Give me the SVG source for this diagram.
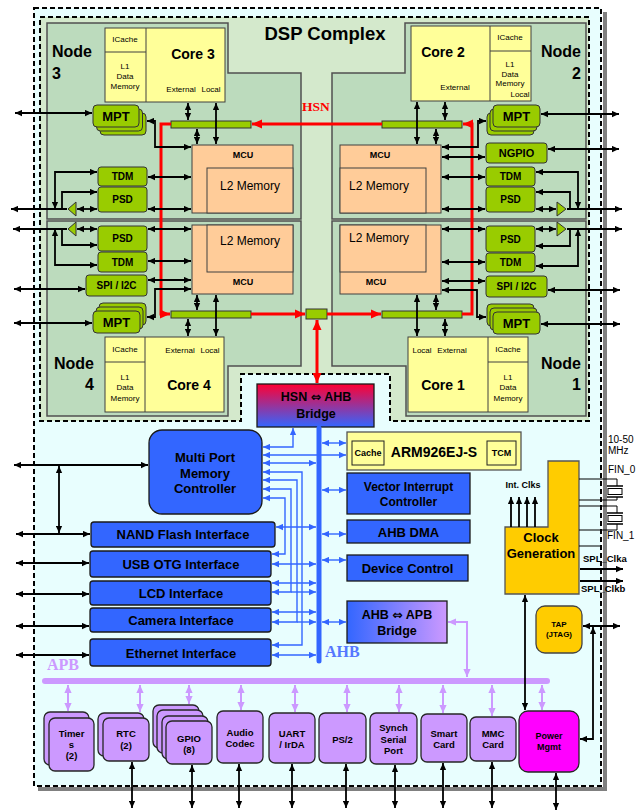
<svg xmlns="http://www.w3.org/2000/svg" width="640" height="811" viewBox="0 0 640 811">
<defs>
<style>
text{font-family:"Liberation Sans",Arial,Helvetica,sans-serif;fill:#000}
.b{font-weight:bold}
.m{text-anchor:middle}
.e{text-anchor:end}
.dj{font-family:"DejaVu Sans",sans-serif;font-weight:bold}
.f8{font-size:8px}.f9{font-size:9px}.f95{font-size:9.5px}.f10{font-size:10px}.f11{font-size:11px}.f12{font-size:12px}.f125{font-size:12.5px}.f13{font-size:13px}.f14{font-size:14px}.f16{font-size:16px}
.serif{font-family:"Liberation Serif","Times New Roman",serif;font-weight:bold}
.node{fill:#bcdbbd;stroke:#505050;stroke-width:1.5}
.core{fill:#ffff99;stroke:#404040;stroke-width:1}
.ln{fill:none;stroke:#404040;stroke-width:1}
.mcu{fill:#ffcc99;stroke:#404040;stroke-width:1}
.grn{fill:#99cc00;stroke:#333;stroke-width:1}
.blu{fill:#3366ff;stroke:#1a1a1a;stroke-width:1.3}
.pur{fill:#cc99ff;stroke:#262626;stroke-width:1.3}
.dash{fill:none;stroke:#000;stroke-width:2;stroke-dasharray:5 3}
.k{fill:none;stroke:#000;stroke-width:1.8;marker-end:url(#mk)}
.k2{fill:none;stroke:#000;stroke-width:1.8;marker-start:url(#mk);marker-end:url(#mk)}
.r{fill:none;stroke:#ff0000;stroke-width:3;marker-end:url(#mr)}
.r2{fill:none;stroke:#ff0000;stroke-width:3;marker-start:url(#mr);marker-end:url(#mr)}
.u{fill:none;stroke:#3366ff;stroke-width:1.4;marker-end:url(#mu)}
.u2{fill:none;stroke:#3366ff;stroke-width:1.4;marker-start:url(#mu);marker-end:url(#mu)}
.p2{fill:none;stroke:#cc99ff;stroke-width:2;marker-start:url(#mp);marker-end:url(#mp)}
.thin{fill:none;stroke:#000;stroke-width:1}
</style>
<marker id="mk" viewBox="0 0 10 10" refX="10" refY="5" markerWidth="7" markerHeight="7" markerUnits="userSpaceOnUse" orient="auto-start-reverse"><path d="M0,0.5L10,5L0,9.5z" fill="#000"/></marker>
<marker id="mr" viewBox="0 0 10 10" refX="10" refY="5" markerWidth="10" markerHeight="10" markerUnits="userSpaceOnUse" orient="auto-start-reverse"><path d="M0,0.5L10,5L0,9.5z" fill="#ff0000"/></marker>
<marker id="mu" viewBox="0 0 10 10" refX="10" refY="5" markerWidth="7" markerHeight="7" markerUnits="userSpaceOnUse" orient="auto-start-reverse"><path d="M0,0.5L10,5L0,9.5z" fill="#3366ff"/></marker>
<marker id="mp" viewBox="0 0 10 10" refX="10" refY="5" markerWidth="8" markerHeight="8" markerUnits="userSpaceOnUse" orient="auto-start-reverse"><path d="M0,0.5L10,5L0,9.5z" fill="#cc99ff"/></marker>
<linearGradient id="g1" x1="0" y1="0" x2="0" y2="1"><stop offset="0" stop-color="#ff0033"/><stop offset="1" stop-color="#3366ff"/></linearGradient>
<linearGradient id="g2" x1="0" y1="0" x2="1" y2="0"><stop offset="0" stop-color="#3366ff"/><stop offset="1" stop-color="#cc99ff"/></linearGradient>
</defs>

<g id="frame">
<rect x="603" y="12" width="4" height="779" fill="#808080"/>
<rect x="38" y="787" width="569" height="4" fill="#808080"/>
<rect x="34" y="8" width="567" height="778" fill="#e8fefe"/>
<rect class="dash" x="34" y="8" width="567" height="778"/>
<polygon points="40,17 589,17 589,421 390,421 390,374 241,374 241,421 40,421" fill="#d4e9cc"/>
<polygon class="dash" points="40,17 589,17 589,421 390,421 390,374 241,374 241,421 40,421"/>
<text class="b m" x="325" y="40" style="font-size:18.5px">DSP Complex</text>
</g>

<g id="node3">
<polygon class="node" points="47,23 228,23 228,73 301,73 301,219 47,219"/>
<text class="b f16" x="52" y="57">Node</text><text class="b f16" x="52" y="79">3</text>
<g id="core3"><rect class="core" x="105" y="28" width="120" height="74"/><path class="ln" d="M146,28V102M105,52H146"/>
<text class="f8 m" x="125" y="42">ICache</text><text class="f8 m" x="125" y="69">L1</text><text class="f8 m" x="125" y="79">Data</text><text class="f8 m" x="125" y="89">Memory</text>
<text class="b f14 m" x="193" y="59">Core 3</text><text class="f8 m" x="181" y="92">External</text><text class="f8 m" x="211" y="92">Local</text></g>
<g id="mcu3"><rect class="mcu" x="192" y="145" width="101" height="68"/><rect class="mcu" x="207" y="168" width="86" height="45"/>
<text class="b f9 m" x="243" y="158">MCU</text><text class="f12 m" x="250" y="190">L2 Memory</text></g>
<g id="bar3"><rect class="grn" x="171" y="121" width="80" height="7"/></g>
<g id="mpt3"><rect class="grn" x="100" y="113" width="46" height="22" rx="4"/><rect class="grn" x="96.5" y="109" width="46" height="22" rx="4"/><rect class="grn" x="93" y="105" width="46" height="22" rx="4"/><text class="b f13 m" x="116" y="121">MPT</text></g>
<g id="tdm3"><rect class="grn" x="98" y="167" width="49" height="19" rx="3"/><text class="b f10 m" x="122.5" y="180">TDM</text></g>
<g id="psd3"><rect class="grn" x="98" y="187" width="49" height="25" rx="3"/><text class="b f10 m" x="122.5" y="203">PSD</text></g>
<g id="buf3"><polygon class="grn" points="68,209 76,202 76,216"/></g>
</g>

<g id="node2">
<polygon class="node" points="405,23 586,23 586,219 332,219 332,73 405,73"/>
<text class="b f16 e" x="581" y="57">Node</text><text class="b f16 e" x="581" y="79">2</text>
<g id="core2"><rect class="core" x="411" y="26" width="120" height="75"/><path class="ln" d="M490,26V101M490,51H531"/>
<text class="b f14 m" x="443" y="57">Core 2</text><text class="f8 m" x="455" y="90">External</text>
<text class="f8 m" x="510" y="40">ICache</text><text class="f8 m" x="510" y="67">L1</text><text class="f8 m" x="510" y="77">Data</text><text class="f8 m" x="510" y="86">Memory</text><text class="f8 m" x="520" y="97">Local</text></g>
<g id="mcu2"><rect class="mcu" x="340" y="145" width="101" height="68"/><rect class="mcu" x="340" y="168" width="86" height="45"/>
<text class="b f9 m" x="380" y="158">MCU</text><text class="f12 m" x="379" y="190">L2 Memory</text></g>
<g id="bar2"><rect class="grn" x="382" y="121" width="80" height="7"/></g>
<g id="mpt2"><rect class="grn" x="487" y="113" width="47" height="22" rx="4"/><rect class="grn" x="490" y="109" width="47" height="22" rx="4"/><rect class="grn" x="493" y="105" width="47" height="22" rx="4"/><text class="b f13 m" x="516.5" y="121">MPT</text></g>
<g id="ngpio2"><rect class="grn" x="486" y="143" width="61" height="20" rx="3"/><text class="b f11 m" x="516.5" y="157">NGPIO</text></g>
<g id="tdm2"><rect class="grn" x="486" y="167" width="49" height="19" rx="3"/><text class="b f10 m" x="510.5" y="180">TDM</text></g>
<g id="psd2"><rect class="grn" x="486" y="187" width="49" height="25" rx="3"/><text class="b f10 m" x="510.5" y="203">PSD</text></g>
<g id="buf2"><polygon class="grn" points="566,209 557,202 557,216"/></g>
</g>

<g id="node4">
<polygon class="node" points="47,221 301,221 301,366 228,366 228,416 47,416"/>
<text class="b f16 e" x="94" y="369">Node</text><text class="b f16 e" x="94" y="390">4</text>
<g id="core4"><rect class="core" x="105" y="337" width="119" height="75"/><path class="ln" d="M145,337V412M105,362H145"/>
<text class="f8 m" x="125" y="352">ICache</text><text class="f8 m" x="125" y="380">L1</text><text class="f8 m" x="125" y="390">Data</text><text class="f8 m" x="125" y="401">Memory</text>
<text class="f8 m" x="180" y="353">External</text><text class="f8 m" x="210" y="353">Local</text><text class="b f14 m" x="189" y="390">Core 4</text></g>
<g id="mcu4"><rect class="mcu" x="192" y="225" width="101" height="69"/><rect class="mcu" x="207" y="225" width="86" height="47"/>
<text class="f12 m" x="250" y="245">L2 Memory</text><text class="b f9 m" x="243" y="285">MCU</text></g>
<g id="bar4"><rect class="grn" x="171" y="311" width="80" height="7"/></g>
<g id="mpt4"><rect class="grn" x="99" y="303" width="47" height="22" rx="4"/><rect class="grn" x="96" y="307" width="47" height="22" rx="4"/><rect class="grn" x="93" y="311" width="47" height="22" rx="4"/><text class="b f13 m" x="116.5" y="327">MPT</text></g>
<g id="psd4"><rect class="grn" x="98" y="226" width="49" height="25" rx="3"/><text class="b f10 m" x="122.5" y="242">PSD</text></g>
<g id="tdm4"><rect class="grn" x="98" y="252" width="49" height="20" rx="3"/><text class="b f10 m" x="122.5" y="266">TDM</text></g>
<g id="spi4"><rect class="grn" x="86" y="275" width="61" height="21" rx="3"/><text class="b f10 m" x="116.5" y="289">SPI / I2C</text></g>
<g id="buf4"><polygon class="grn" points="68,229 76,222 76,236"/></g>
</g>

<g id="node1">
<polygon class="node" points="332,221 586,221 586,416 406,416 406,366 332,366"/>
<text class="b f16 e" x="581" y="369">Node</text><text class="b f16 e" x="581" y="390">1</text>
<g id="core1"><rect class="core" x="408" y="337" width="120" height="75"/><path class="ln" d="M488,337V412M488,362H528"/>
<text class="f8 m" x="422" y="353">Local</text><text class="f8 m" x="452" y="353">External</text><text class="b f14 m" x="443" y="390">Core 1</text>
<text class="f8 m" x="508" y="352">ICache</text><text class="f8 m" x="508" y="380">L1</text><text class="f8 m" x="508" y="390">Data</text><text class="f8 m" x="508" y="401">Memory</text></g>
<g id="mcu1"><rect class="mcu" x="340" y="225" width="101" height="69"/><rect class="mcu" x="340" y="225" width="86" height="47"/>
<text class="f12 m" x="379" y="242">L2 Memory</text><text class="b f9 m" x="376" y="285">MCU</text></g>
<g id="bar1"><rect class="grn" x="382" y="311" width="80" height="7"/></g>
<g id="mpt1"><rect class="grn" x="487" y="304" width="47" height="22" rx="4"/><rect class="grn" x="490" y="308" width="47" height="22" rx="4"/><rect class="grn" x="493" y="312" width="47" height="22" rx="4"/><text class="b f13 m" x="516.5" y="328">MPT</text></g>
<g id="psd1"><rect class="grn" x="486" y="226" width="49" height="26" rx="3"/><text class="b f10 m" x="510.5" y="243">PSD</text></g>
<g id="tdm1"><rect class="grn" x="486" y="253" width="49" height="19" rx="3"/><text class="b f10 m" x="510.5" y="266">TDM</text></g>
<g id="spi1"><rect class="grn" x="486" y="276" width="61" height="21" rx="3"/><text class="b f10 m" x="516.5" y="290">SPI / I2C</text></g>
<g id="buf1"><polygon class="grn" points="566,229 557,222 557,236"/></g>
</g>

<g id="hsn-hub"><rect class="grn" x="306" y="309" width="21" height="10"/></g>
<text class="serif m" x="316" y="111" style="font-size:13.5px;fill:#ff0000">HSN</text>

<g id="hsn-ahb-bridge"><rect x="257" y="384" width="117" height="43" fill="url(#g1)" stroke="#1a1a1a" stroke-width="1.3"/>
<text class="b f125 m" x="316" y="401">HSN <tspan class="dj">⇔</tspan> AHB</text><text class="b f125 m" x="316" y="418">Bridge</text></g>

<g id="mpmc"><rect class="blu" x="149" y="430" width="113" height="84" rx="13"/>
<text class="b f13 m" x="205" y="462">Multi Port</text><text class="b f13 m" x="205" y="478">Memory</text><text class="b f13 m" x="205" y="493">Controller</text></g>
<g id="nand"><rect class="blu" x="91" y="522" width="184" height="25" rx="3"/><text class="b f13 m" x="183" y="539">NAND Flash Interface</text></g>
<g id="usb"><rect class="blu" x="90" y="551" width="181" height="26" rx="3"/><text class="b f13 m" x="181" y="569">USB OTG Interface</text></g>
<g id="lcd"><rect class="blu" x="90" y="581" width="181" height="24" rx="3"/><text class="b f13 m" x="181" y="598">LCD Interface</text></g>
<g id="camera"><rect class="blu" x="90" y="608" width="181" height="24" rx="3"/><text class="b f13 m" x="181" y="625">Camera Interface</text></g>
<g id="ethernet"><rect class="blu" x="90" y="639" width="181" height="27" rx="3"/><text class="b f13 m" x="181" y="658">Ethernet Interface</text></g>

<g id="arm"><rect x="347" y="432" width="174" height="38" fill="#ffff99" stroke="#555" stroke-width="1.3"/>
<rect x="352" y="441" width="32" height="24" fill="#ffff99" stroke="#222" stroke-width="1"/><text class="b f9 m" x="368" y="456">Cache</text>
<rect x="487" y="441" width="29" height="24" fill="#ffff99" stroke="#222" stroke-width="1"/><text class="b f9 m" x="501.5" y="456">TCM</text>
<text class="b f14 m" x="434" y="457">ARM926EJ-S</text></g>
<g id="vic"><rect class="blu" x="347" y="473" width="123" height="41"/><text class="b f12 m" x="408.5" y="491">Vector Interrupt</text><text class="b f12 m" x="408.5" y="506">Controller</text></g>
<g id="dma"><rect class="blu" x="347" y="520" width="123" height="23"/><text class="b f13 m" x="408.5" y="537">AHB DMA</text></g>
<g id="devctl"><rect class="blu" x="347" y="555" width="121" height="26"/><text class="b f13 m" x="407.5" y="573">Device Control</text></g>
<g id="ahb-apb-bridge"><rect x="347" y="601" width="100" height="42" fill="url(#g2)" stroke="#1a1a1a" stroke-width="1.3"/>
<text class="b f125 m" x="397" y="619">AHB <tspan class="dj">⇔</tspan> APB</text><text class="b f125 m" x="397" y="635">Bridge</text></g>

<g id="clock"><polygon points="548,461 579,461 579,594 505,594 505,527 548,527" fill="#ffcc00" stroke="#555" stroke-width="1.3"/>
<text class="b f13 m" x="541" y="542">Clock</text><text class="b f13 m" x="541" y="558">Generation</text></g>
<g id="tap"><rect x="536" y="606" width="46" height="47" rx="9" fill="#ffcc00" stroke="#444" stroke-width="1.3"/>
<text class="b f8 m" x="559" y="627">TAP</text><text class="b f8 m" x="559" y="637">(JTAG)</text></g>
<g id="power"><rect x="519" y="711" width="60" height="61" rx="9" fill="#ff00ff" stroke="#262626" stroke-width="1.3"/>
<text class="b f9 m" x="549" y="739">Power</text><text class="b f9 m" x="549" y="750">Mgmt</text></g>

<g id="timers"><rect class="pur" x="44" y="712" width="45" height="53" rx="6"/><rect class="pur" x="49" y="718" width="45" height="53" rx="6"/>
<text class="b f95 m" x="71.5" y="737">Timer</text><text class="b f95 m" x="71.5" y="748">s</text><text class="b f95 m" x="71.5" y="759">(2)</text></g>
<g id="rtc"><rect class="pur" x="98" y="713" width="46" height="43" rx="6"/><rect class="pur" x="103" y="718" width="46" height="43" rx="6"/>
<text class="b f95 m" x="126" y="737">RTC</text><text class="b f95 m" x="126" y="749">(2)</text></g>
<g id="gpio"><rect class="pur" x="153" y="705" width="46" height="43" rx="6"/><rect class="pur" x="157" y="710" width="46" height="43" rx="6"/><rect class="pur" x="162" y="716" width="46" height="43" rx="6"/><rect class="pur" x="166" y="721" width="46" height="43" rx="6"/>
<text class="b f95 m" x="189" y="742">GPIO</text><text class="b f95 m" x="189" y="753">(8)</text></g>
<g id="audio"><rect class="pur" x="217" y="711" width="46" height="52" rx="6"/><text class="b f95 m" x="240" y="736">Audio</text><text class="b f95 m" x="240" y="747">Codec</text></g>
<g id="uart"><rect class="pur" x="269" y="713" width="46" height="50" rx="6"/><text class="b f95 m" x="292" y="737">UART</text><text class="b f95 m" x="292" y="748">/ IrDA</text></g>
<g id="ps2"><rect class="pur" x="319" y="713" width="47" height="50" rx="6"/><text class="b f95 m" x="342.5" y="743">PS/2</text></g>
<g id="ssp"><rect class="pur" x="370" y="713" width="47" height="51" rx="6"/><text class="b f95 m" x="393.5" y="731">Synch</text><text class="b f95 m" x="393.5" y="743">Serial</text><text class="b f95 m" x="393.5" y="754">Port</text></g>
<g id="smart"><rect class="pur" x="421" y="714" width="46" height="48" rx="6"/><text class="b f95 m" x="444" y="737">Smart</text><text class="b f95 m" x="444" y="748">Card</text></g>
<g id="mmc"><rect class="pur" x="470" y="717" width="46" height="44" rx="6"/><text class="b f95 m" x="493" y="737">MMC</text><text class="b f95 m" x="493" y="748">Card</text></g>

<text class="serif" x="325" y="657" style="font-size:16px;fill:#5577ff">AHB</text>
<text class="serif" x="47" y="670" style="font-size:16px;fill:#cc99ff">APB</text>
<text class="b f9 m" x="523" y="488">Int. Clks</text>
<text class="f10" x="608" y="443">10-50</text><text class="f10" x="608" y="454">MHz</text>
<text class="f10" x="608" y="473">FIN_0</text><text class="f10" x="607" y="539">FIN_1</text>
<text class="b f95" x="583" y="562">SPL_Clka</text><text class="b f95" x="581" y="592">SPL_Clkb</text>

<g id="connectors">
<path d="M319,428V661" fill="none" stroke="#3366ff" stroke-width="5" stroke-linecap="round"/>
<path d="M45,681H547" fill="none" stroke="#cc99ff" stroke-width="6" stroke-linecap="round"/>
<path class="r" d="M382,124H252"/>
<path class="r" d="M171,124H161V314H170"/>
<path class="r" d="M251,314H305"/>
<path class="r" d="M327,314H381"/>
<path class="r" d="M462,314H472V124H463"/>
<path class="r2" d="M317,320V383"/>
<path class="k2" d="M188,103V120"/><path class="k2" d="M216,103V144"/><path class="k2" d="M197,129V144"/>
<path class="k2" d="M15,113H92"/><path class="k2" d="M147,121H155V147H191"/>
<path class="k2" d="M148,177H191"/><path class="k2" d="M148,209H191"/><path class="k2" d="M77,209H97"/>
<path class="k" d="M67,209H11"/><path class="k2" d="M55,209V172H97"/><path class="k" d="M62,209V192H97"/>
<path class="k2" d="M445,102V120"/><path class="k2" d="M417,102V144"/><path class="k2" d="M436,129V144"/>
<path class="k2" d="M541,114H619"/><path class="k2" d="M442,147H478V121H486"/>
<path class="k2" d="M442,157H485"/><path class="k2" d="M548,149H619"/>
<path class="k2" d="M442,177H485"/><path class="k2" d="M442,209H485"/><path class="k2" d="M536,209H556"/>
<path class="k" d="M567,209H622"/><path class="k2" d="M578,209V172H536"/><path class="k" d="M570,209V192H536"/>
<path class="k" d="M67,229H13"/><path class="k2" d="M77,229H97"/><path class="k2" d="M148,229H191"/>
<path class="k2" d="M55,229V265H97"/><path class="k" d="M62,229V245H97"/>
<path class="k2" d="M148,261H191"/><path class="k2" d="M148,280H191"/><path class="k2" d="M147,317H155V289H191"/>
<path class="k2" d="M14,289H85"/><path class="k2" d="M14,323H92"/>
<path class="k2" d="M197,295V310"/><path class="k2" d="M216,295V336"/><path class="k2" d="M188,319V336"/>
<path class="k2" d="M442,229H485"/><path class="k2" d="M536,229H556"/><path class="k" d="M567,229H622"/>
<path class="k2" d="M578,229V266H536"/><path class="k" d="M570,229V246H536"/>
<path class="k2" d="M442,262H485"/><path class="k2" d="M442,281H485"/><path class="k2" d="M548,290H620"/>
<path class="k2" d="M442,290H477V317H486"/><path class="k2" d="M541,324H620"/>
<path class="k2" d="M417,295V336"/><path class="k2" d="M436,295V310"/><path class="k2" d="M445,319V336"/>
<path class="k2" d="M14,465H148"/><path class="k2" d="M59,466V533"/>
<path class="k2" d="M16,534H90"/><path class="k2" d="M16,563H89"/><path class="k2" d="M16,594H89"/>
<path class="k2" d="M16,626H89"/><path class="k2" d="M16,655H89"/>
<path class="u2" d="M263,447H293V428"/>
<path class="u2" d="M263,455H346"/>
<path class="u2" d="M263,463H316"/>
<path class="u2" d="M322,443H346"/>
<path class="u2" d="M263,472H302V645H272"/>
<path class="u2" d="M263,480H297V622H272"/>
<path class="u2" d="M263,489H291V592H272"/>
<path class="u2" d="M263,498H285V554H272"/>
<path class="u2" d="M276,527H316"/>
<path class="u2" d="M272,564H316"/>
<path class="u2" d="M272,583H316"/>
<path class="u" d="M291,592H316"/>
<path class="u2" d="M272,612H316"/>
<path class="u" d="M297,622H316"/>
<path class="u2" d="M272,655H316"/>
<path class="u2" d="M322,490H346"/>
<path class="u2" d="M322,534H346"/>
<path class="u2" d="M322,560H346"/>
<path class="u2" d="M322,622H346"/>
<path class="p2" d="M448,622H467V677"/>
<path class="p2" d="M68,685V711"/><path class="p2" d="M140,685V712"/><path class="p2" d="M189,685V704"/>
<path class="p2" d="M241,685V710"/><path class="p2" d="M295,685V712"/><path class="p2" d="M347,685V712"/>
<path class="p2" d="M399,685V712"/><path class="p2" d="M443,685V713"/><path class="p2" d="M492,685V716"/>
<path class="p2" d="M542,685V710"/>
<path class="k2" d="M132,762V808"/><path class="k2" d="M192,765V808"/><path class="k2" d="M239,764V808"/>
<path class="k2" d="M292,764V808"/><path class="k2" d="M346,764V808"/><path class="k2" d="M395,765V808"/>
<path class="k2" d="M443,763V808"/><path class="k2" d="M492,762V808"/><path class="k2" d="M556,773V810"/>
<path class="k" d="M511,527V497"/><path class="k" d="M519,527V497"/><path class="k" d="M527,527V497"/><path class="k" d="M535,527V497"/>
<path class="k2" d="M525,595V710"/>
<path class="k2" d="M593,627V739H580"/>
<path class="k2" d="M583,626H620"/>
<path class="k" d="M580,569H623"/><path class="k" d="M580,581H623"/>
<path class="thin" d="M579,479H617V486M617,497V500H579M579,506H617V513M617,524V530H579M579,546H601"/>
<path d="M607,486H623M607,497H623M607,513H623M607,524H623" fill="none" stroke="#000" stroke-width="1.3"/>
<rect x="608" y="488.5" width="14" height="6" fill="#fff" stroke="#000" stroke-width="1"/>
<rect x="608" y="515.5" width="14" height="6" fill="#fff" stroke="#000" stroke-width="1"/>
</g>
</svg>
